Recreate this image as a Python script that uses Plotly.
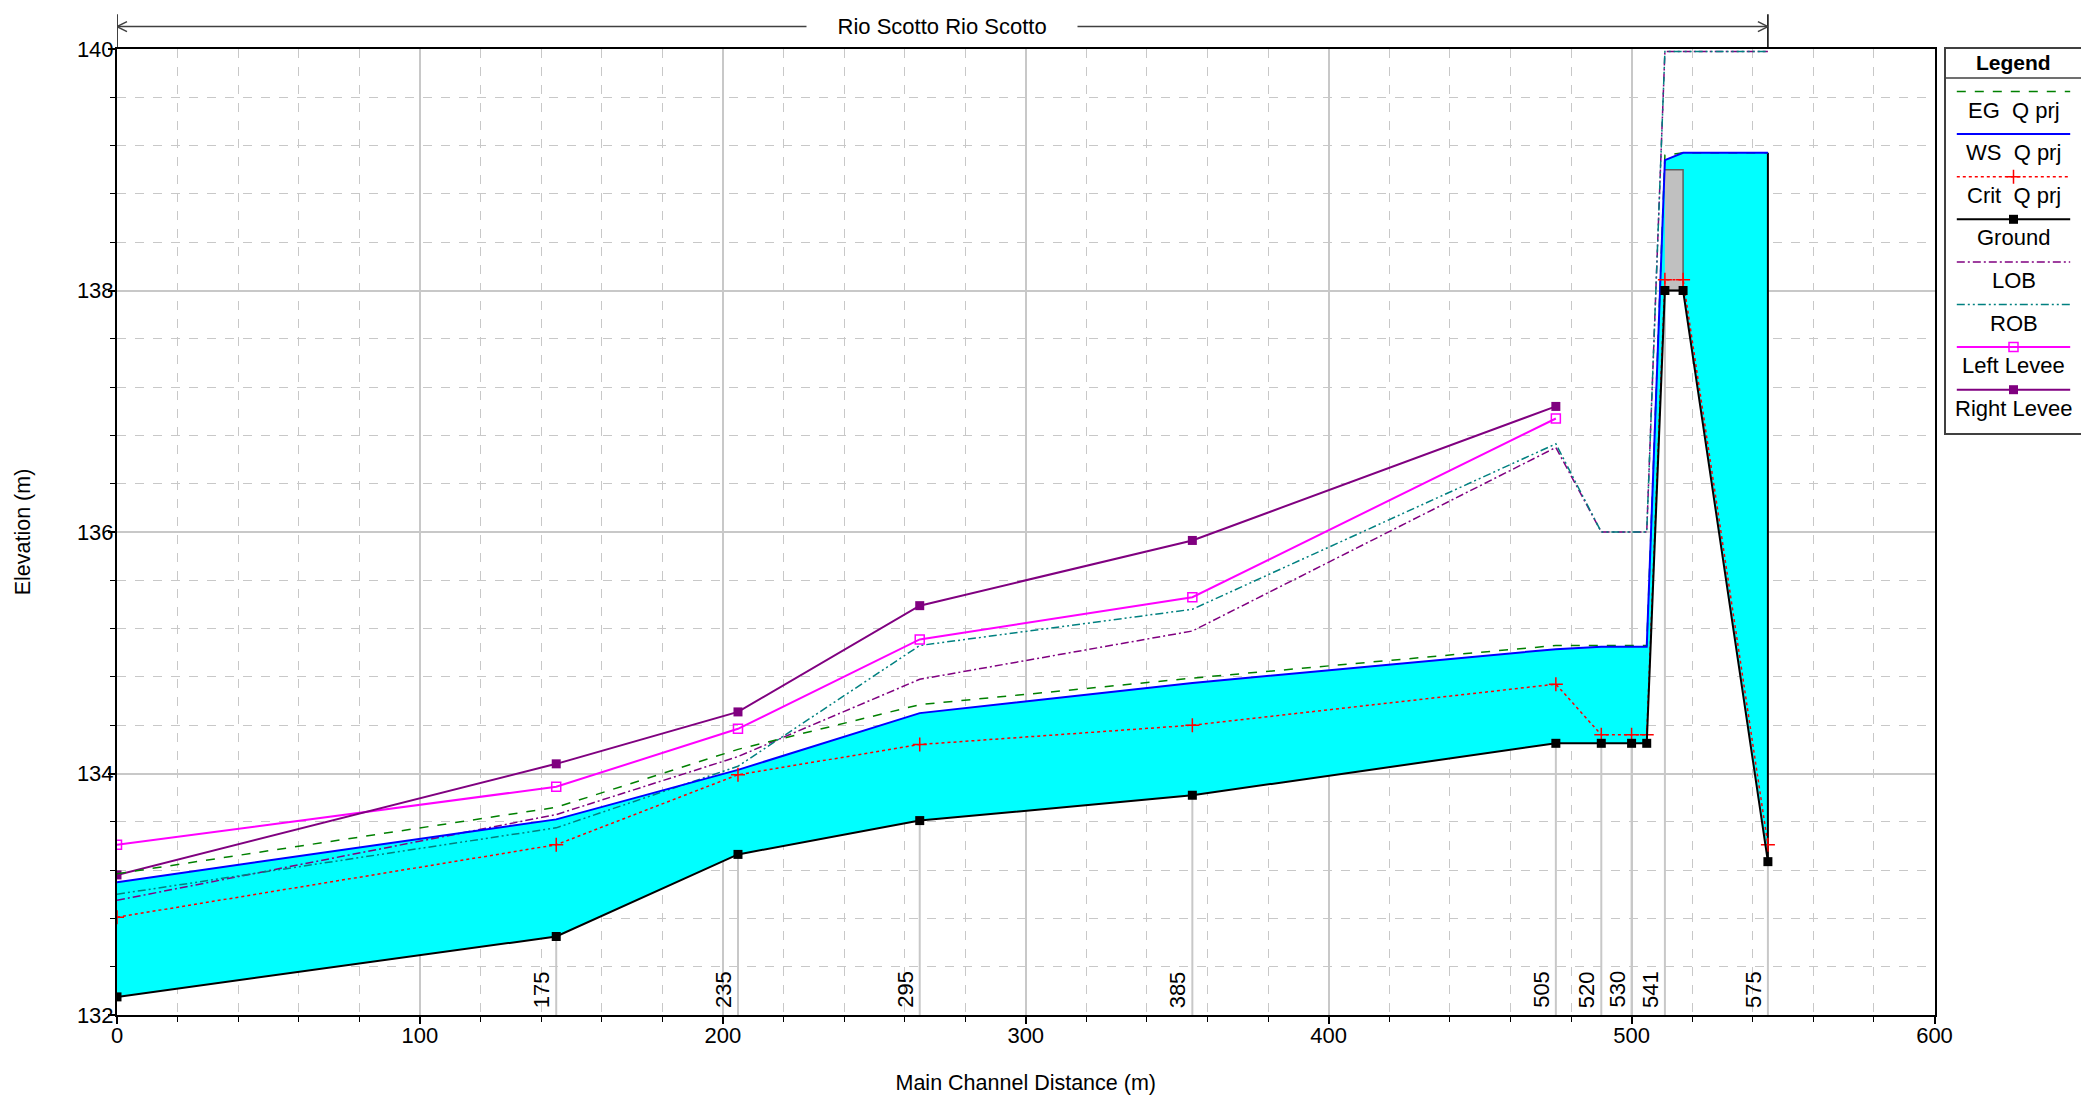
import plotly.graph_objects as go

# ---------------- data ----------------
dist = [0, 145, 205, 265, 355, 475, 490, 500, 505, 511, 517, 545]
rs_labels = ["", "175", "235", "295", "385", "505", "520", "530", "", "541", "", "575"]
ground = [132.15, 132.65, 133.33, 133.61, 133.82, 134.25, 134.25, 134.25, 134.25, 138.00, 138.00, 133.27]
ws = [133.10, 133.62, 134.03, 134.50, 134.75, 135.03, 135.05, 135.05, 135.05, 139.08, 139.14, 139.14]
eg = [133.17, 133.72, 134.20, 134.57, 134.79, 135.06, 135.06, 135.06, 135.06, 139.12, 139.14, 139.14]
crit = [132.81, 133.41, 133.99, 134.24, 134.40, 134.74, 134.32, 134.32, 134.32, 138.09, 138.09, 133.41]
lob = [132.95, 133.66, 134.14, 134.78, 135.18, 136.70, 136.00, 136.00, 136.00, 139.98, 139.98, 139.98]
rob = [133.00, 133.55, 134.06, 135.06, 135.36, 136.73, 136.00, 136.00, 136.00, 139.98, 139.98, 139.98]
levee_dist = [0, 145, 205, 265, 355, 475]
left_levee = [133.41, 133.89, 134.37, 135.11, 135.46, 136.94]
right_levee = [133.16, 134.08, 134.51, 135.39, 135.93, 137.04]
deck_dist = [511, 517]
deck_low = [138.0, 138.0]
deck_high = [139.0, 139.0]
reach_name = "Rio Scotto Rio Scotto"
x_range = [0, 600]
y_range = [132, 140]
legend_names = ["EG\u00a0 Q prj", "WS\u00a0 Q prj", "Crit\u00a0 Q prj", "Ground",
                "LOB", "ROB", "Left Levee", "Right Levee"]

# ---------------- styles ----------------
FONT = "Liberation Sans, Arial, sans-serif"
styles = {
    "EG": dict(line=dict(color="#008000", width=1.5, dash="dash"), marker=None),
    "WS": dict(line=dict(color="#0000FF", width=2), marker=None),
    "Crit": dict(line=dict(color="#FF0000", width=1.5, dash="dot"),
                 marker=dict(symbol="cross-thin", size=10, line=dict(color="#FF0000", width=1.5))),
    "Ground": dict(line=dict(color="#000000", width=2),
                   marker=dict(symbol="square", size=9, color="#000000")),
    "LOB": dict(line=dict(color="#800080", width=1.5, dash="8px,3px,2px,3px"), marker=None),
    "ROB": dict(line=dict(color="#008080", width=1.5, dash="8px,3px,2px,3px,2px,3px"), marker=None),
    "LL": dict(line=dict(color="#FF00FF", width=2),
               marker=dict(symbol="square-open", size=9, color="#FF00FF", line=dict(color="#FF00FF", width=1.5))),
    "RL": dict(line=dict(color="#800080", width=2),
               marker=dict(symbol="square", size=9, color="#800080")),
}
legend_keys = ["EG", "WS", "Crit", "Ground", "LOB", "ROB", "LL", "RL"]

fig = go.Figure()

# water fill between ground and water surface
fig.add_trace(go.Scatter(x=dist + dist[::-1], y=ws + ground[::-1], fill="toself",
                         fillcolor="#00FFFF", line=dict(width=0), mode="lines",
                         hoverinfo="skip", showlegend=False))
# bridge deck
fig.add_trace(go.Scatter(x=deck_dist + deck_dist[::-1], y=deck_high + deck_low[::-1], fill="toself",
                         fillcolor="#C0C0C0", line=dict(color="#606060", width=1.5), mode="lines",
                         hoverinfo="skip", showlegend=False))
# station marker lines
sx, sy = [], []
for d, g, lab in zip(dist, ground, rs_labels):
    if lab:
        sx += [d, d, None]
        sy += [g, y_range[0], None]
fig.add_trace(go.Scatter(x=sx, y=sy, mode="lines", line=dict(color="#C8C8C8", width=2),
                         hoverinfo="skip", showlegend=False))
# right edge of water
fig.add_trace(go.Scatter(x=[dist[-1], dist[-1]], y=[ground[-1], ws[-1]], mode="lines",
                         line=dict(color="#000000", width=2), showlegend=False, hoverinfo="skip"))


def add_series(x, y, key, name):
    st = styles[key]
    mode = "lines+markers" if st["marker"] else "lines"
    kw = dict(x=x, y=y, mode=mode, line=st["line"], name=name, showlegend=False)
    if st["marker"]:
        kw["marker"] = st["marker"]
    fig.add_trace(go.Scatter(**kw))


add_series(dist, lob, "LOB", "LOB")
add_series(dist, rob, "ROB", "ROB")
add_series(levee_dist, left_levee, "LL", "Left Levee")
add_series(levee_dist, right_levee, "RL", "Right Levee")
add_series(dist, eg, "EG", "EG Q prj")
add_series(dist, ws, "WS", "WS Q prj")
add_series(dist, crit, "Crit", "Crit Q prj")
add_series(dist, ground, "Ground", "Ground")

# ---------------- custom legend panel (x2/y2) ----------------
LEG_H = 384
line_y0, step, text_off = 42.5, 42.6, 18.5
for i, (key, name) in enumerate(zip(legend_keys, legend_names)):
    st = styles[key]
    yy = line_y0 + step * i
    fig.add_trace(go.Scatter(x=[0.08, 0.92], y=[yy, yy], mode="lines", line=st["line"],
                             xaxis="x2", yaxis="y2", showlegend=False, hoverinfo="skip"))
    if st["marker"]:
        fig.add_trace(go.Scatter(x=[0.5], y=[yy], mode="markers", marker=st["marker"],
                                 xaxis="x2", yaxis="y2", showlegend=False, hoverinfo="skip"))
    fig.add_annotation(x=0.5, y=yy + text_off, xref="x2", yref="y2", text=name, showarrow=False,
                       font=dict(family=FONT, size=22, color="black"), xanchor="center", yanchor="middle")
fig.add_annotation(x=0.5, y=13, xref="x2", yref="y2", text="<b>Legend</b>", showarrow=False,
                   font=dict(family=FONT, size=21, color="black"), xanchor="center", yanchor="middle")
fig.add_shape(type="line", xref="x2", yref="y2", x0=0, x1=1, y0=29, y1=29,
              line=dict(color="#404040", width=1.5))

# ---------------- station labels ----------------
for d, lab in zip(dist, rs_labels):
    if lab:
        fig.add_annotation(x=d, y=y_range[0], xref="x", yref="y", text=lab, textangle=-90,
                           showarrow=False, xanchor="right", yanchor="bottom", xshift=0, yshift=5,
                           font=dict(family=FONT, size=22, color="black"))

# ---------------- reach indicator above plot ----------------
r0, r1 = dist[0], dist[-1]
ry = 1.0232
shapes = [
    dict(type="line", xref="x", yref="paper", x0=r0, x1=r1, y0=ry, y1=ry, line=dict(color="#404040", width=1.5)),
    dict(type="line", xref="x", yref="paper", x0=r0, x1=r0, y0=1.0, y1=1.036, line=dict(color="#000000", width=1.5)),
    dict(type="line", xref="x", yref="paper", x0=r1, x1=r1, y0=1.0, y1=1.036, line=dict(color="#000000", width=1.5)),
]
for anchor, sgn in ((r0, 1), (r1, -1)):
    for dy in (5, -5):
        shapes.append(dict(type="line", xref="x", yref="paper", xsizemode="pixel", xanchor=anchor,
                           ysizemode="pixel", yanchor=ry, x0=0, x1=sgn * 10, y0=0, y1=dy,
                           line=dict(color="#404040", width=1.5)))
for s in shapes:
    fig.add_shape(**s)
pad = "\u00a0" * 5
fig.add_annotation(x=(r0 + r1) / 2, y=ry, xref="x", yref="paper", text=pad + reach_name + pad,
                   showarrow=False, bgcolor="white", borderpad=0, xanchor="center", yanchor="middle",
                   font=dict(family=FONT, size=22, color="black"))

# ---------------- layout ----------------
# page body has an 8px default margin, so the figure is sized/offset to compensate
W, H = 2081, 1089
ml, mr, mt, mb = 109, 8, 41, 82
pw = W - ml - mr
ph = H - mt - mb
main_x_end = (1926.5 - ml) / pw
leg_x0 = (1938 - ml) / pw
leg_y0 = (H - mb - 425) / ph

grid_major = "#C8C8C8"
grid_minor = "#C8C8C8"
fig.update_layout(
    width=W, height=H,
    margin=dict(l=ml, r=mr, t=mt, b=mb, autoexpand=False),
    paper_bgcolor="white", plot_bgcolor="white",
    font=dict(family=FONT, size=22, color="black"),
    showlegend=False,
    xaxis=dict(domain=[0, main_x_end], range=x_range, dtick=100, tick0=0, automargin=False,
               showgrid=True, gridcolor=grid_major, gridwidth=1.5, zeroline=False,
               showline=True, linecolor="black", linewidth=2, mirror=True,
               ticks="outside", ticklen=7, tickcolor="black", tickwidth=1.5,
               tickfont=dict(size=22), ticklabelstandoff=-7,
               minor=dict(dtick=20, tick0=0, ticks="outside", ticklen=5, tickcolor="black", tickwidth=1.2,
                          showgrid=True, gridcolor=grid_minor, griddash="dash", gridwidth=1),
               title=dict(text="Main Channel Distance (m)", font=dict(size=21.5), standoff=28)),
    yaxis=dict(domain=[0, 1], range=y_range, dtick=2, tick0=132, automargin=False,
               showgrid=True, gridcolor=grid_major, gridwidth=1.5, zeroline=False,
               showline=True, linecolor="black", linewidth=2, mirror=True,
               ticks="outside", ticklen=7, tickcolor="black", tickwidth=1.5,
               tickfont=dict(size=22), ticklabelstandoff=-10,
               minor=dict(dtick=0.4, tick0=132, ticks="outside", ticklen=5, tickcolor="black", tickwidth=1.2,
                          showgrid=True, gridcolor=grid_minor, griddash="dash", gridwidth=1),
               title=dict(text="Elevation (m)", font=dict(size=21.5), standoff=40)),
    xaxis2=dict(domain=[leg_x0, 1.0], range=[0, 1], anchor="y2", showgrid=False, zeroline=False,
                automargin=False,
                showticklabels=False, ticks="", showline=True, mirror=True, linecolor="#404040", linewidth=1.5),
    yaxis2=dict(domain=[leg_y0, 1.0], range=[LEG_H, 0], anchor="x2", showgrid=False, zeroline=False,
                automargin=False,
                showticklabels=False, ticks="", showline=True, mirror=True, linecolor="#404040", linewidth=1.5),
)

fig.write_html("out.html")
